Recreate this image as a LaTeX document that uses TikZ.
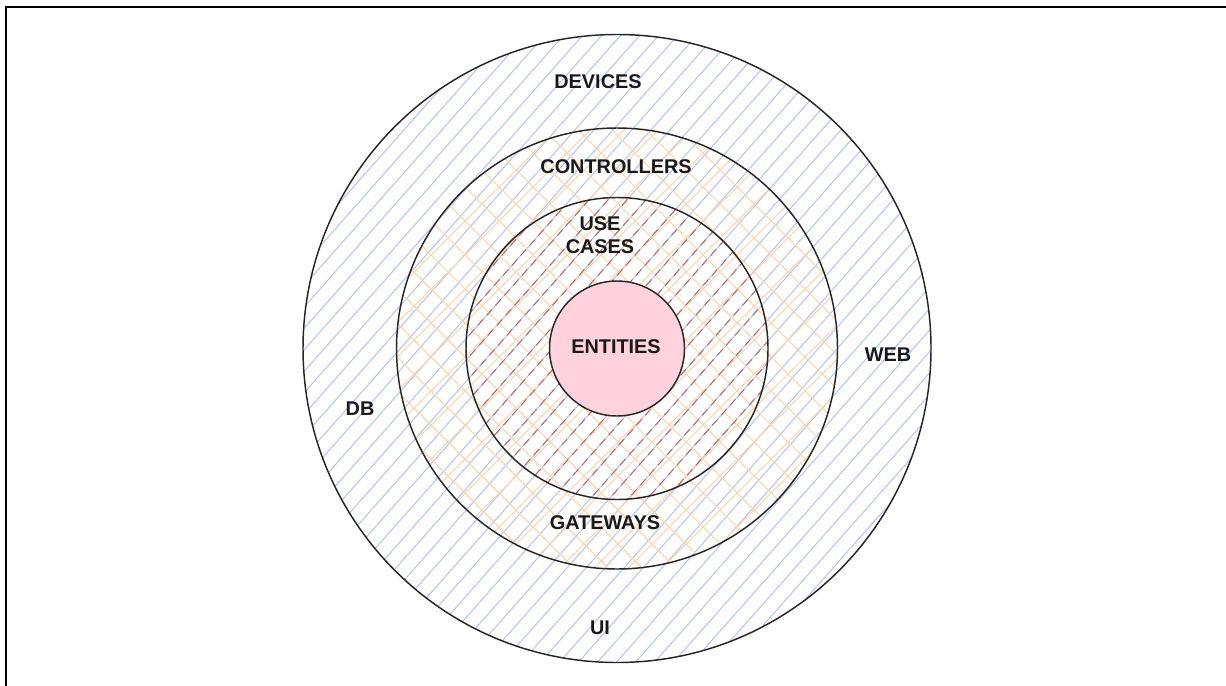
\documentclass[tikz,border=0pt]{standalone}
\usepackage{fontspec}
\setmainfont{Liberation Sans}
\definecolor{hatchblue}{RGB}{180,196,236}
\definecolor{hatchorange}{RGB}{248,214,176}
\definecolor{hatchred}{RGB}{195,95,85}
\definecolor{entpink}{RGB}{255,210,221}
\begin{document}
\begin{tikzpicture}[x=0.75pt,y=-0.75pt,
  lbl/.style={font=\bfseries\fontsize{14.9}{17.5}\selectfont, text=black!90, align=center, inner sep=0pt},
  ringline/.style={draw=black!85, line width=1.1pt},
  bluehatch/.style={draw=hatchblue, line width=0.75pt},
  orangehatch/.style={draw=hatchorange, line width=0.8pt},
  redhatch/.style={draw=hatchred, line width=0.7pt, dash pattern=on 6pt off 4pt},
  entbox/.style={circle, draw=black!85, line width=1.1pt, fill=entpink, minimum size=101.25pt, inner sep=0pt}]
\useasboundingbox (0,0) rectangle (1226,685);
\clip (0,0) rectangle (1226,685);
\fill[white] (0,0) rectangle (1226,685);
\draw[line width=1.5pt] (5.5,7.5) rectangle (1240,700);
\coordinate (c) at (617,348.5);
% outer ring hatch
\begin{scope}
  \clip (c) circle[radius=314];
  \foreach \k in {500,519,...,1460} \draw[bluehatch] (\k,0) -- ({\k-620},700);
\end{scope}
% controllers crosshatch
\begin{scope}
  \clip (c) circle[radius=220.5];
  \foreach \k in {380,414,...,1560} \draw[orangehatch] (\k,0) -- ({\k-700},700);
  \foreach \k in {-300,-266,...,900} \draw[orangehatch] (\k,0) -- ({\k+700},700);
\end{scope}
% use cases dashed
\begin{scope}
  \clip (c) circle[radius=151];
  \foreach \k in {500,519,...,1460} \draw[redhatch] (\k,0) -- ({\k-620},700);
\end{scope}
% circles
\draw[ringline] (c) circle[radius=314];
\draw[ringline] (c) circle[radius=220.5];
\draw[ringline] (c) circle[radius=151];
\node[entbox] (entities) at (c) {};
\node[lbl] (entitiestext) at (616,347) {ENTITIES};
% labels
\node[lbl] (devices) at (598,82) {DEVICES};
\node[lbl] (controllers) at (616,167) {CONTROLLERS};
\node[lbl] (usecases) at (600,235) {USE\\CASES};
\node[lbl] (web) at (888,355) {WEB};
\node[lbl] (db) at (360,409) {DB};
\node[lbl] (gateways) at (605,523) {GATEWAYS};
\node[lbl] (ui) at (600,628) {UI};
\end{tikzpicture}
\end{document}
